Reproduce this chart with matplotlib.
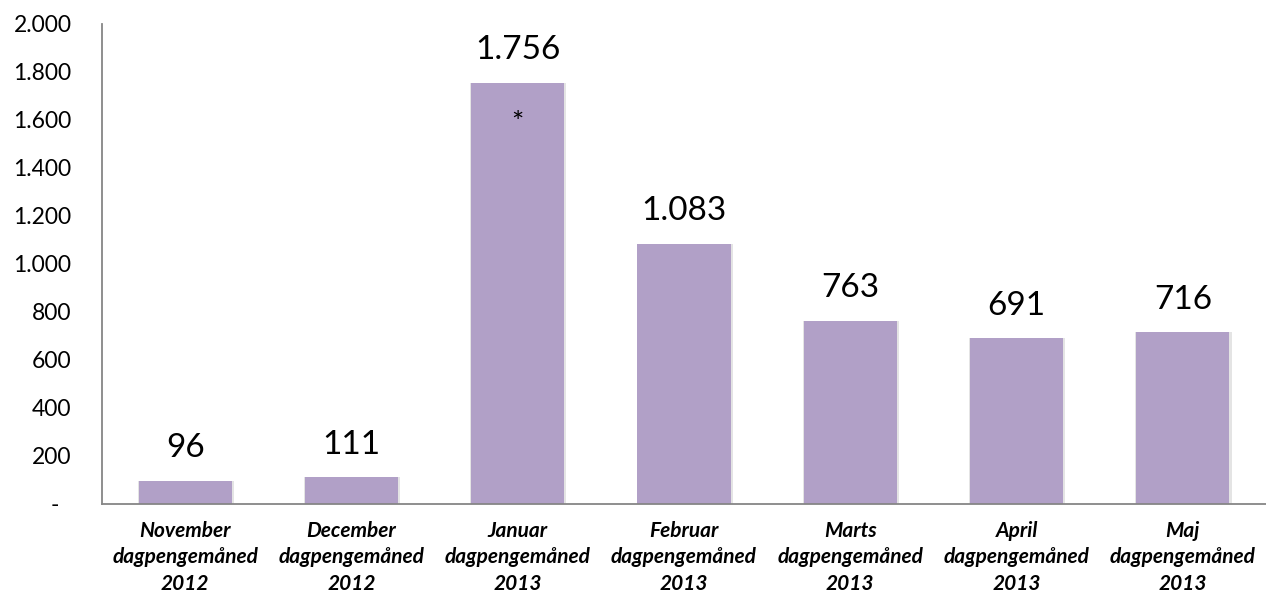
import matplotlib
matplotlib.use("Agg")
import matplotlib.pyplot as plt
import numpy as np

# data
months = ["November", "December", "Januar", "Februar", "Marts", "April", "Maj"]
years = ["2012", "2012", "2013", "2013", "2013", "2013", "2013"]
values = [96, 111, 1756, 1083, 763, 691, 716]
yticks = [0, 200, 400, 600, 800, 1000, 1200, 1400, 1600, 1800, 2000]
starred = "Januar"

BAR_COLOR = "#b1a0c7"
SPINE_COLOR = "#868686"

plt.rcParams["font.family"] = ["Lato", "DejaVu Sans"]


def dk_number(v: float) -> str:
    if v == 0:
        return "-  "
    return f"{int(v):,}".replace(",", ".")


fig = plt.figure(figsize=(12.66, 5.94), dpi=100)
ax = fig.add_axes([102 / 1266, 90 / 594, 1 - 102 / 1266, 480 / 594])

x = np.arange(len(values))
width = 0.56
# soft glow/shadow around each bar
ax.bar(x + 0.004, values, width + 0.018, color="#e4e4e4", zorder=1)
bars = ax.bar(x, values, width, color=BAR_COLOR, zorder=2)

for bar, v in zip(bars, values):
    ax.annotate(dk_number(v), (bar.get_x() + bar.get_width() / 2, v),
                xytext=(0, 17), textcoords="offset points",
                ha="center", va="baseline", fontsize=24, color="#000000")

i = months.index(starred)
ax.annotate("*", (x[i], values[i]), xytext=(0, -30), textcoords="offset points",
            ha="center", va="center", fontsize=21)

ax.set_xlim(-0.5, len(values) - 0.5)
ax.set_ylim(0, 2000)
ax.set_yticks(yticks)
ax.set_yticklabels([dk_number(v) for v in yticks], fontsize=16.5)
ax.set_xticks(x)
ax.set_xticklabels([f"{m}\ndagpengemåned\n{y}" for m, y in zip(months, years)],
                   fontsize=15, fontweight="bold", fontstyle="italic",
                   linespacing=1.42)
ax.tick_params(axis="y", length=0, pad=22)
ax.tick_params(axis="x", length=0, pad=12)

for side in ("top", "right"):
    ax.spines[side].set_visible(False)
for side in ("left", "bottom"):
    ax.spines[side].set_color(SPINE_COLOR)
    ax.spines[side].set_linewidth(1.3)

fig.savefig("out.png", dpi=100)
